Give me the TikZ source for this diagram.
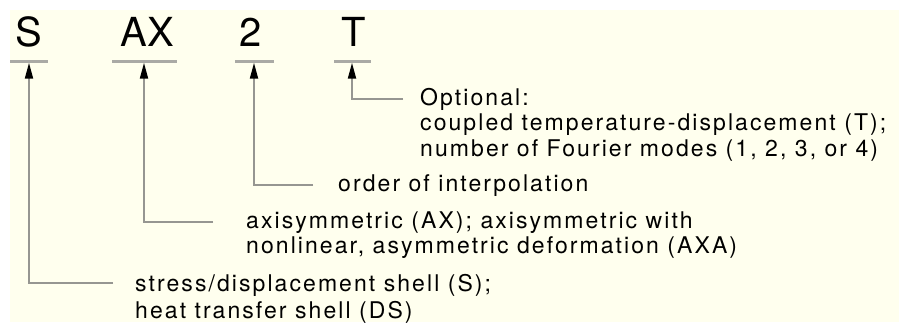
\documentclass[tikz,border=0pt]{standalone}
\usepackage{fontspec}
\setmainfont{TeX Gyre Heros}
\newfontfamily\descfont[LetterSpace=9]{TeX Gyre Heros}
\usetikzlibrary{arrows.meta}
\definecolor{paper}{RGB}{255,255,238}
\definecolor{rulegray}{RGB}{170,170,165}
\definecolor{leadgray}{RGB}{150,150,145}
\newcommand{\desclines}[1]{\begin{tabular}[t]{@{}l@{}}#1\end{tabular}}

\begin{document}
\begin{tikzpicture}[x=1pt, y=-1pt,
  letter/.style={anchor=base, inner sep=0pt, font=\fontsize{40}{48}\selectfont},
  bar/.style={fill=rulegray, minimum height=3pt, inner sep=0pt},
  desc/.style={anchor=base west, inner sep=0pt, font=\descfont\fontsize{23}{25.5}\selectfont},
  leader/.style={draw=leadgray, line width=2pt, -{Triangle[length=16pt,width=8pt,color=black]}}]
    \useasboundingbox (0,0) rectangle (899,322);
    \fill[paper] (10,10) rectangle (899,322);
    % element name
    \node[letter] (S) at (29,46) {S};
    \node[letter] (AX) at (147,46) {AX};
    \node[letter] (two) at (251,46) {2};
    \node[letter] (T) at (354,46) {T};
    \node[bar, minimum width=38pt] (Sbar) at (29,61) {};
    \node[bar, minimum width=65pt] (AXbar) at (144,61) {};
    \node[bar, minimum width=39pt] (twobar) at (254,61) {};
    \node[bar, minimum width=37pt] (Tbar) at (352,61) {};
    % descriptions
    \node[desc] (optT) at (420,105) {\desclines{Optional:\\
        coupled temperature-displacement (T);\\
        number of Fourier modes (1, 2, 3, or 4)}};
    \node[desc] (interp) at (338,191) {order of interpolation};
    \node[desc] (axisym) at (246,228) {\desclines{axisymmetric (AX); axisymmetric with\\
        nonlinear, asymmetric deformation (AXA)}};
    \node[desc] (shell) at (135,291) {\desclines{stress/displacement shell (S);\\[1.5pt]
        heat transfer shell (DS)}};
    % leaders
    \draw[leader] ([yshift=6pt]optT.base west) ++(-17pt,0) -| (Tbar.south);
    \draw[leader] ([yshift=6pt]interp.base west) ++(-25pt,0) -| (twobar.south);
    \draw[leader] ([yshift=6pt]axisym.base west) ++(-33pt,0) -| (AXbar.south);
    \draw[leader] ([yshift=8pt]shell.base west) ++(-22pt,0) -| (Sbar.south);
\end{tikzpicture}
\end{document}
